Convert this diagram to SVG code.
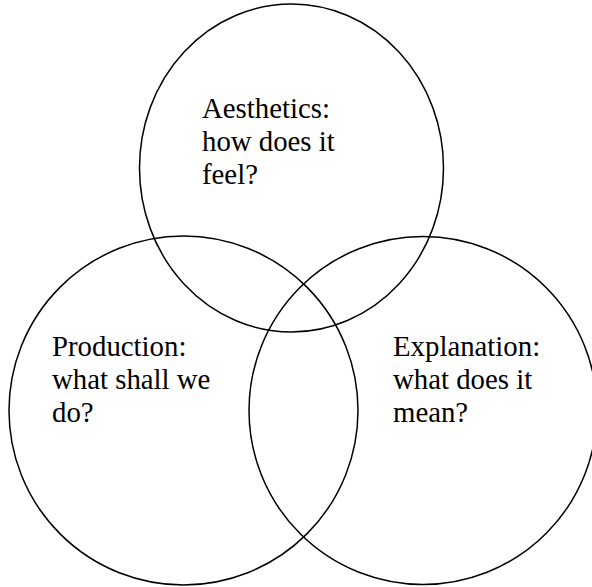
<svg xmlns="http://www.w3.org/2000/svg" width="592" height="587" viewBox="0 0 592 587">
<style>
.c{fill:none;stroke:#000;stroke-width:1.5}
.t{font-family:"Liberation Serif","Times New Roman",serif;font-size:28.8px;fill:#000}
</style>
<rect width="592" height="587" fill="#fff"/>
<g id="aesthetics">
<ellipse class="c" cx="291.5" cy="168" rx="152" ry="164"/>
<text class="t" x="202" y="118">Aesthetics:</text>
<text class="t" x="202" y="151">how does it</text>
<text class="t" x="202" y="184">feel?</text>
</g>
<g id="production">
<circle class="c" cx="183.5" cy="410.5" r="174.5"/>
<text class="t" x="52" y="356">Production:</text>
<text class="t" x="52" y="389">what shall we</text>
<text class="t" x="52" y="422">do?</text>
</g>
<g id="explanation">
<circle class="c" cx="423" cy="410.5" r="174"/>
<text class="t" x="393" y="356">Explanation:</text>
<text class="t" x="393" y="389">what does it</text>
<text class="t" x="393" y="422">mean?</text>
</g>
<g id="connectors"></g>
</svg>
